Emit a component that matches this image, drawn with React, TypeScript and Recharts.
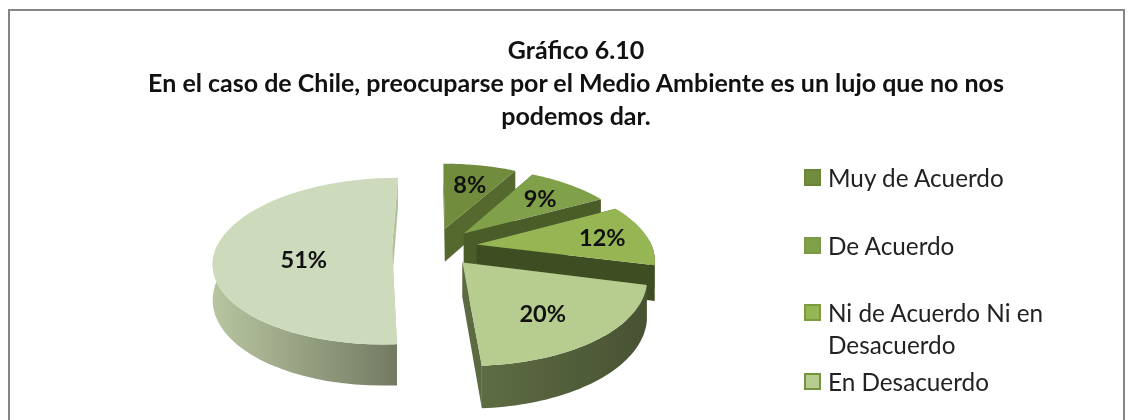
import React from "react";
import { PieChart, Pie, Legend } from "recharts";

const categories = ["Muy de Acuerdo", "De Acuerdo", "Ni de Acuerdo Ni en Desacuerdo", "En Desacuerdo", "Muy en Desacuerdo"];
const percents = [8, 9, 12, 20, 51];

const topColors = ["#718c3d", "#80a04a", "#95b653", "#b7cc8f", "#cddbbc"];
const edgeColors = ["#55692e", "#4a5c28", "#3f4e22", "#5c6a42", "#b5c2a0"];
const wallFrom = ["#55692e", "#4a5c28", "#3f4e22", "#5e6c43", "#b8c5a0"];
const wallTo = ["#55692e", "#4a5c28", "#3f4e22", "#475233", "#727b62"];
const swatchBorders = ["#6b8539", "#7a9a45", "#7d9c41", "#76933f"];

const labelRadius = [0.68, 0.7, 0.74, 0.62, 0.5];
const labelDy = [0, 0, 0, 6, 10];
const legendTops = [0, 68, 135, 204];

const data = categories.map((name, i) => ({ name, value: percents[i], fill: topColors[i] }));

const FONT = "Lato, 'Open Sans', sans-serif";
const CX = 434.6;
const CY = 247;
const RADIUS = 175.6;
const FLATTEN = 81 / 175.6; // ground depth to screen height
const PERSPECTIVE = 0.162;
const EXPLODE = 0.242;
const DEPTH = 34.4;

const rad = (d: number) => (d * Math.PI) / 180;

// ground coords are in radius units, y grows toward the viewer
function project(cx: number, cy: number, r: number, gx: number, gy: number, z = 0) {
  const k = 1 / (1 - PERSPECTIVE * gy);
  return [cx + r * gx * k, cy + r * FLATTEN * gy * k + z * DEPTH * k];
}

function ground(angle: number, mid: number, radius: number) {
  return [
    EXPLODE * Math.cos(rad(mid)) + radius * Math.cos(rad(angle)),
    -EXPLODE * Math.sin(rad(mid)) - radius * Math.sin(rad(angle)),
  ];
}

const fmt = (p: number[]) => `${p[0].toFixed(1)} ${p[1].toFixed(1)}`;

function Slice(props: any) {
  const { cx, cy, outerRadius, startAngle, endAngle, index } = props;
  const mid = (startAngle + endAngle) / 2;
  const pt = (angle: number, radius: number, z = 0) => {
    const g = ground(angle, mid, radius);
    return project(cx, cy, outerRadius, g[0], g[1], z);
  };
  const steps = 48;
  const rim: number[] = [];
  for (let i = 0; i <= steps; i++) rim.push(startAngle + ((endAngle - startAngle) * i) / steps);
  // only the part of the rim that faces the viewer gets an outer wall
  const frontRim = rim.filter((a) => Math.sin(rad(a)) < 0.05);

  const apex = pt(0, 0);
  const apexLow = pt(0, 0, 1);
  const top = `M${fmt(apex)} ` + rim.map((a) => `L${fmt(pt(a, 1))}`).join(" ") + " Z";
  const outer =
    frontRim.map((a, i) => `${i ? "L" : "M"}${fmt(pt(a, 1))}`).join(" ") +
    " " +
    [...frontRim].reverse().map((a) => `L${fmt(pt(a, 1, 1))}`).join(" ") +
    " Z";
  const face = (a: number) =>
    `M${fmt(apex)} L${fmt(pt(a, 1))} L${fmt(pt(a, 1, 1))} L${fmt(apexLow)} Z`;
  const gradId = `wall-${index}`;

  return (
    <g>
      <defs>
        <linearGradient id={gradId} x1="0" y1="0" x2="1" y2="0">
          <stop offset="0%" stopColor={wallFrom[index]} />
          <stop offset="100%" stopColor={wallTo[index]} />
        </linearGradient>
      </defs>
      <path d={face(startAngle)} fill={edgeColors[index]} />
      <path d={face(endAngle)} fill={edgeColors[index]} />
      {frontRim.length > 1 && <path d={outer} fill={`url(#${gradId})`} />}
      <path d={top} fill={topColors[index]} />
    </g>
  );
}

function SliceLabel(props: any) {
  const { cx, cy, outerRadius, midAngle, index, value } = props;
  const g = ground(midAngle, midAngle, labelRadius[index]);
  const p = project(cx, cy, outerRadius, g[0], g[1]);
  return (
    <text
      x={p[0]}
      y={p[1] + labelDy[index]}
      textAnchor="middle"
      dominantBaseline="central"
      fontFamily={FONT}
      fontSize={23.5}
      fontWeight={700}
      fill="#111"
    >
      {`${value}%`}
    </text>
  );
}

function LegendRows({ payload }: any) {
  const rows = (payload || []).filter((_: any, i: number) => i < legendTops.length);
  return (
    <div style={{ position: "relative", width: 250, height: 240, fontFamily: FONT }}>
      {rows.map((entry: any, i: number) => (
        <div
          key={entry.value}
          style={{ position: "absolute", top: legendTops[i], left: 0, width: 246, paddingLeft: 24, fontSize: 24.3, lineHeight: "32px", color: "#222", boxSizing: "border-box" }}
        >
          <span
            style={{
              position: "absolute",
              left: 0,
              top: 7,
              width: 17,
              height: 17,
              boxSizing: "border-box",
              background: topColors[i],
              border: `2px solid ${swatchBorders[i]}`,
            }}
          />
          {entry.value}
        </div>
      ))}
    </div>
  );
}

export default function App() {
  return (
    <div style={{ position: "fixed", left: 0, top: 0, width: 1133, height: 420, overflow: "hidden", background: "#fff", filter: "blur(0.5px)" }}>
      <div style={{ position: "absolute", left: 8, top: 9, width: 1113, height: 440, border: "2px solid #868686", boxSizing: "content-box" }} />
      <div style={{ position: "absolute", left: 126, top: 33, width: 900, textAlign: "center", fontFamily: FONT, fontWeight: 700, fontSize: 25, lineHeight: "33px", color: "#111" }}>
        <div>Gráfico 6.10</div>
        <div>En el caso de Chile, preocuparse por el Medio Ambiente es un lujo que no nos</div>
        <div>podemos dar.</div>
      </div>
      <div style={{ position: "absolute", left: 0, top: 0 }}>
        <PieChart width={1133} height={420} margin={{ top: 0, right: 0, bottom: 0, left: 0 }}>
          <Pie
            data={data}
            dataKey="value"
            nameKey="name"
            cx={CX}
            cy={CY}
            outerRadius={RADIUS}
            startAngle={90}
            endAngle={-270}
            stroke="none"
            isAnimationActive={false}
            shape={Slice}
            label={SliceLabel}
            labelLine={false}
          />
          <Legend
            layout="vertical"
            itemSorter={null}
            content={<LegendRows />}
            wrapperStyle={{ position: "absolute", left: 804, top: 162, width: 250, height: 240 }}
          />
        </PieChart>
      </div>
    </div>
  );
}
